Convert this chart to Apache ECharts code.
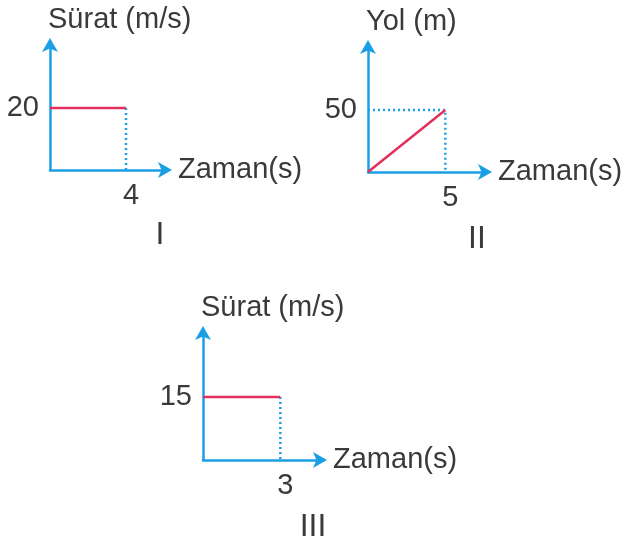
<!DOCTYPE html>
<html>
<head>
<meta charset="utf-8">
<script src="https://cdn.jsdelivr.net/npm/echarts@6/dist/echarts.min.js"></script>
<style>
  html, body { margin: 0; padding: 0; background: #fff; }
  #main { width: 628px; height: 544px; }
</style>
</head>
<body>
<div id="main"></div>
<script>
// grafik verileri
var zamanI = [0, 4];
var suratI = [20, 20];
var zamanII = [0, 5];
var yolII = [0, 50];
var zamanIII = [0, 3];
var suratIII = [15, 15];

var xEtiket = 'Zaman(s)';
var yEtiketSurat = 'Sürat (m/s)';
var yEtiketYol = 'Yol (m)';
var numaralar = ['I', 'II', 'III'];

var mavi = '#1b9fe4';
var kirmizi = '#e2305c';
var yazi = '#3a3a3a';
var font = 'Liberation Sans';

function pairs(xs, ys) {
  return xs.map(function (x, i) { return [x, ys[i]]; });
}

function xAxisOf(idx, max, tick) {
  return {
    type: 'value', gridIndex: idx, min: 0, max: max,
    name: xEtiket, nameLocation: 'end', nameGap: 14,
    nameTextStyle: { color: yazi, fontSize: 29, fontFamily: font, padding: [6, 0, 0, 0] },
    axisLine: { show: true, symbol: ['none', 'arrow'], symbolSize: [12, 14], symbolOffset: [0, 8],
      lineStyle: { color: mavi, width: 2.5 } },
    axisTick: { show: false },
    splitLine: { show: false },
    axisLabel: { customValues: [tick], color: yazi, fontSize: 29, fontFamily: font, margin: 11, padding: [0, 0, 0, 10] }
  };
}

function yAxisOf(idx, max, tick, name) {
  return {
    type: 'value', gridIndex: idx, min: 0, max: max,
    name: name, nameLocation: 'end', nameGap: 12,
    nameTextStyle: { color: yazi, fontSize: 29, fontFamily: font, align: 'left', padding: [0, 0, 0, -2] },
    axisLine: { show: true, symbol: ['none', 'arrow'], symbolSize: [12, 14], symbolOffset: [0, 8],
      lineStyle: { color: mavi, width: 2.5 } },
    axisTick: { show: false },
    splitLine: { show: false },
    axisLabel: { customValues: [tick], color: yazi, fontSize: 29, fontFamily: font, margin: 11 }
  };
}

function kirmiziCizgi(idx, data) {
  return {
    type: 'line', xAxisIndex: idx, yAxisIndex: idx, data: data,
    symbol: 'none', z: 3, silent: true,
    lineStyle: { color: kirmizi, width: 2.5 }
  };
}

function noktaliCizgi(idx, data) {
  return {
    type: 'line', xAxisIndex: idx, yAxisIndex: idx, data: data,
    symbol: 'none', z: 2, silent: true,
    lineStyle: { color: mavi, width: 2.5, type: [2, 3] }
  };
}

function numara(text, x, y) {
  return {
    type: 'text', x: x, y: y,
    style: { text: text, fill: yazi, font: '32px "Liberation Sans"', align: 'center', verticalAlign: 'middle' }
  };
}

var bitisI = pairs(zamanI, suratI);
var sonI = bitisI[bitisI.length - 1];
var bitisII = pairs(zamanII, yolII);
var sonII = bitisII[bitisII.length - 1];
var bitisIII = pairs(zamanIII, suratIII);
var sonIII = bitisIII[bitisIII.length - 1];

var myChart = echarts.init(document.getElementById('main'));

var option = {
  backgroundColor: '#fff',
  animation: false,
  grid: [
    { left: 50, top: 46, width: 114, height: 124 },
    { left: 368, top: 48, width: 116, height: 124 },
    { left: 203, top: 334, width: 116, height: 126 }
  ],
  xAxis: [
    xAxisOf(0, 6, sonI[0]),
    xAxisOf(1, 7.5, sonII[0]),
    xAxisOf(2, 4.5, sonIII[0])
  ],
  yAxis: [
    yAxisOf(0, 40, sonI[1], yEtiketSurat),
    yAxisOf(1, 100, sonII[1], yEtiketYol),
    yAxisOf(2, 30, sonIII[1], yEtiketSurat)
  ],
  series: [
    kirmiziCizgi(0, bitisI),
    noktaliCizgi(0, [sonI, [sonI[0], 0]]),
    kirmiziCizgi(1, bitisII),
    noktaliCizgi(1, [[0, sonII[1]], sonII, [sonII[0], 0]]),
    kirmiziCizgi(2, bitisIII),
    noktaliCizgi(2, [sonIII, [sonIII[0], 0]])
  ],
  graphic: [
    numara(numaralar[0], 160, 235),
    numara(numaralar[1], 477, 239),
    numara(numaralar[2], 313, 527)
  ]
};

myChart.setOption(option);
</script>
</body>
</html>
